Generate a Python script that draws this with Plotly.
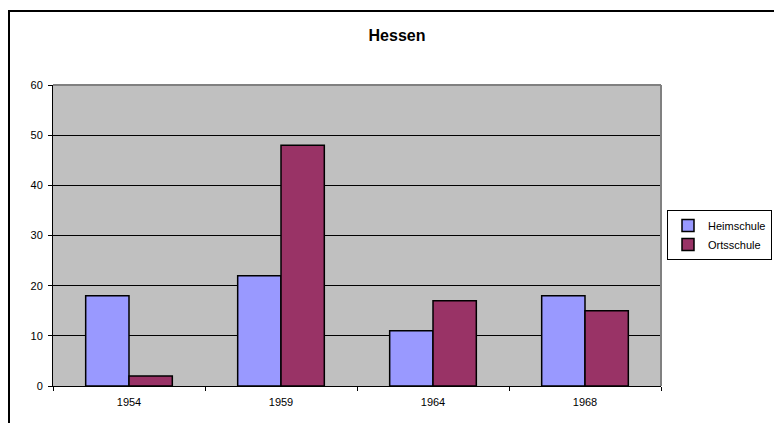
import plotly.graph_objects as go

years = ["1954", "1959", "1964", "1968"]
heimschule = [18, 22, 11, 18]
ortsschule = [2, 48, 17, 15]

W, H = 774, 423
L, R, T, B = 53, 113, 85, 37
pw = W - L - R
ph = H - T - B

def px_x(p):
    return (p - L) / pw

def px_y(p):
    return (H - B - p) / ph

fig = go.Figure()
fig.add_bar(name="Heimschule", x=years, y=heimschule,
            marker=dict(color="#9999FF", line=dict(color="black", width=1.5)))
fig.add_bar(name="Ortsschule", x=years, y=ortsschule,
            marker=dict(color="#993366", line=dict(color="black", width=1.5)))

font = "Liberation Sans, Arial, sans-serif"
fig.update_layout(
    width=W, height=H,
    margin=dict(l=L, r=R, t=T, b=B, autoexpand=False),
    paper_bgcolor="white",
    plot_bgcolor="#C0C0C0",
    barmode="group",
    bargap=0.43,
    bargroupgap=0,
    font=dict(family=font, size=11, color="black"),
    title=dict(text="<b>Hessen</b>", x=px_x(397), xref="paper", xanchor="center",
               y=(H - 35) / H, yanchor="middle",
               font=dict(family=font, size=16, color="black")),
    legend=dict(x=px_x(772), xanchor="right", y=px_y(235), yanchor="middle",
                bordercolor="black", borderwidth=1, bgcolor="white",
                font=dict(family=font, size=11, color="black"),
                itemwidth=30, tracegroupgap=0),
    showlegend=True,
)
fig.update_xaxes(type="category", showline=True, linecolor="black", linewidth=1,
                 ticks="outside", tickson="boundaries", ticklen=4, tickcolor="black",
                 showgrid=False, tickfont=dict(size=11), ticklabelstandoff=6)
fig.update_yaxes(range=[0, 60], dtick=10, showline=True, linecolor="black", linewidth=1,
                 ticks="outside", ticklen=4, tickcolor="black",
                 showgrid=True, gridcolor="black", gridwidth=1, zeroline=False,
                 tickfont=dict(size=11), ticklabelstandoff=3)

# gray plot-area border on top and right
fig.add_shape(type="line", xref="paper", yref="paper", x0=0, x1=1, y0=1, y1=1,
              line=dict(color="#808080", width=2))
fig.add_shape(type="line", xref="paper", yref="paper", x0=1, x1=1, y0=0, y1=1,
              line=dict(color="#808080", width=2))
# outer chart border
fig.add_shape(type="rect", xref="paper", yref="paper",
              x0=px_x(9), x1=px_x(790), y0=px_y(440), y1=px_y(11),
              line=dict(color="black", width=2), fillcolor="rgba(0,0,0,0)")

fig.write_html("out.html")
